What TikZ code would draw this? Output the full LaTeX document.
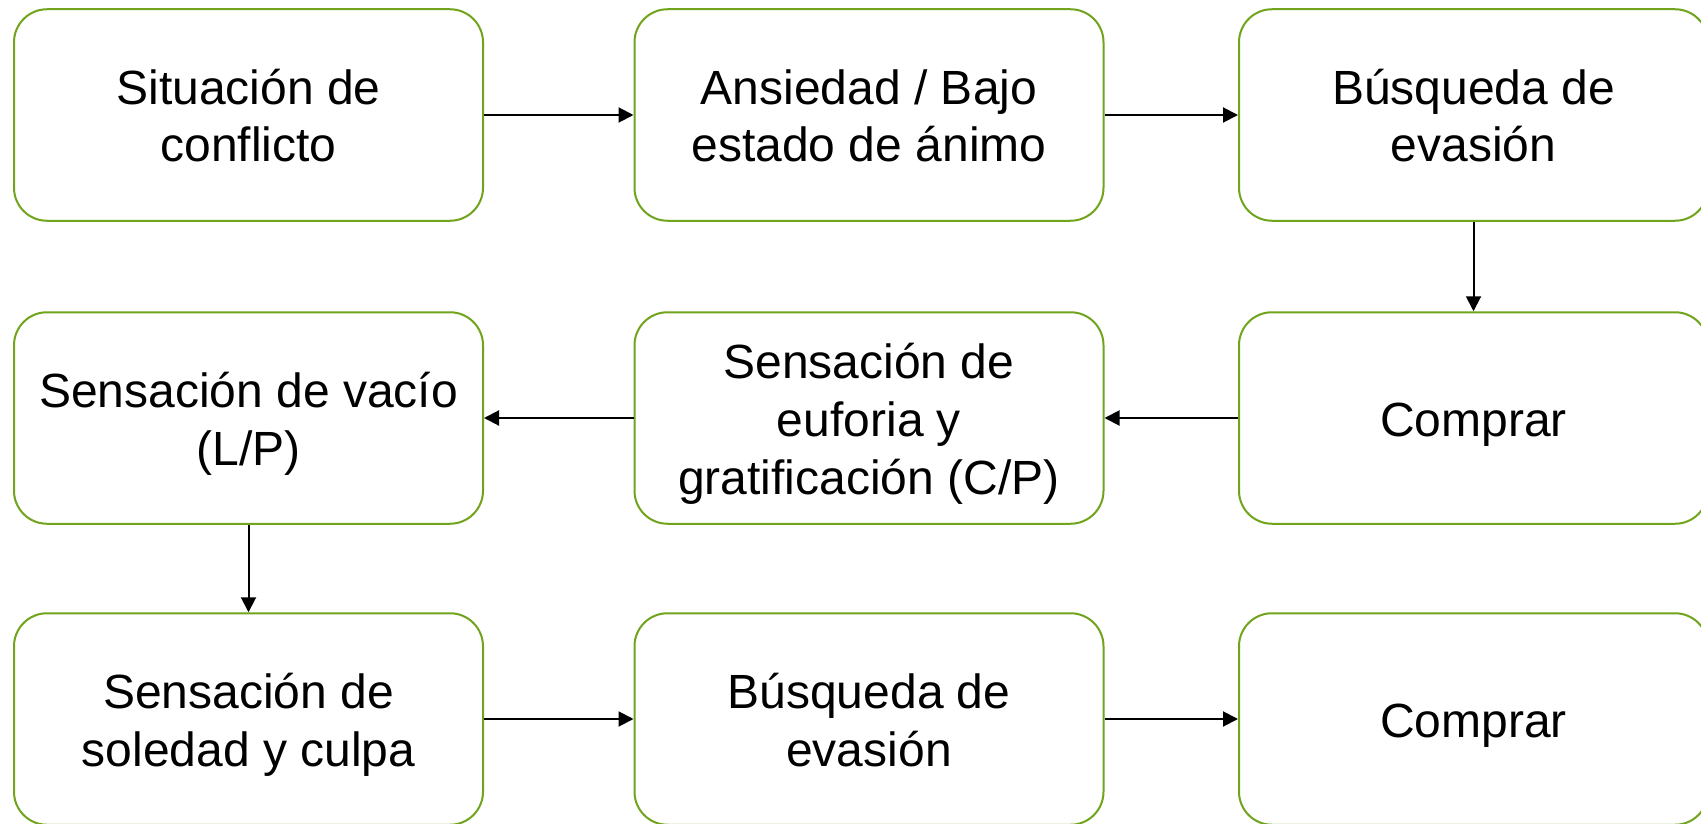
\documentclass[tikz,border=0pt]{standalone}
\usepackage{fontspec}
\setmainfont{Liberation Sans}
\usetikzlibrary{arrows.meta}
\definecolor{boxgreen}{RGB}{112,164,28}
\tikzset{
  box/.style={draw=boxgreen, line width=2pt, fill=white, rectangle, rounded corners=33pt,
    minimum width=469pt, minimum height=211.5pt, inner sep=0pt, align=center,
    font=\fontsize{48}{58}\selectfont, text=black, text depth=0pt},
  oneline/.style={text height=36pt},
  twolines/.style={text height=94pt},
  threelines/.style={text height=152pt},
  arr/.style={draw=black, line width=2pt, -{Triangle[length=15pt,width=15pt]}}
}
\begin{document}
\begin{tikzpicture}[x=1pt,y=-1pt]
\useasboundingbox (0,0) rectangle (1701,824);
\clip (0,0) rectangle (1701,824);
\fill[white] (0,0) rectangle (1701,824);
\node[box,twolines] (a1) at (248.5,115) {Situación de\\conflicto};
\node[box,twolines] (a2) at (869,115) {Ansiedad / Bajo\\estado de ánimo};
\node[box,twolines] (a3) at (1473.5,115) {Búsqueda de\\evasión};
\node[box,oneline] (b3) at (1473.5,418) {Comprar};
\node[box,threelines] (b2) at (869,418) {Sensación de\\euforia y\\gratificación (C/P)};
\node[box,twolines] (b1) at (248.5,418) {Sensación de vacío\\(L/P)};
\node[box,twolines] (c1) at (248.5,719) {Sensación de\\soledad y culpa};
\node[box,twolines] (c2) at (869,719) {Búsqueda de\\evasión};
\node[box,oneline] (c3) at (1473.5,719) {Comprar};
\draw[arr] (a1) -- (a2);
\draw[arr] (a2) -- (a3);
\draw[arr] (a3) -- (b3);
\draw[arr] (b3) -- (b2);
\draw[arr] (b2) -- (b1);
\draw[arr] (b1) -- (c1);
\draw[arr] (c1) -- (c2);
\draw[arr] (c2) -- (c3);
\end{tikzpicture}
\end{document}
